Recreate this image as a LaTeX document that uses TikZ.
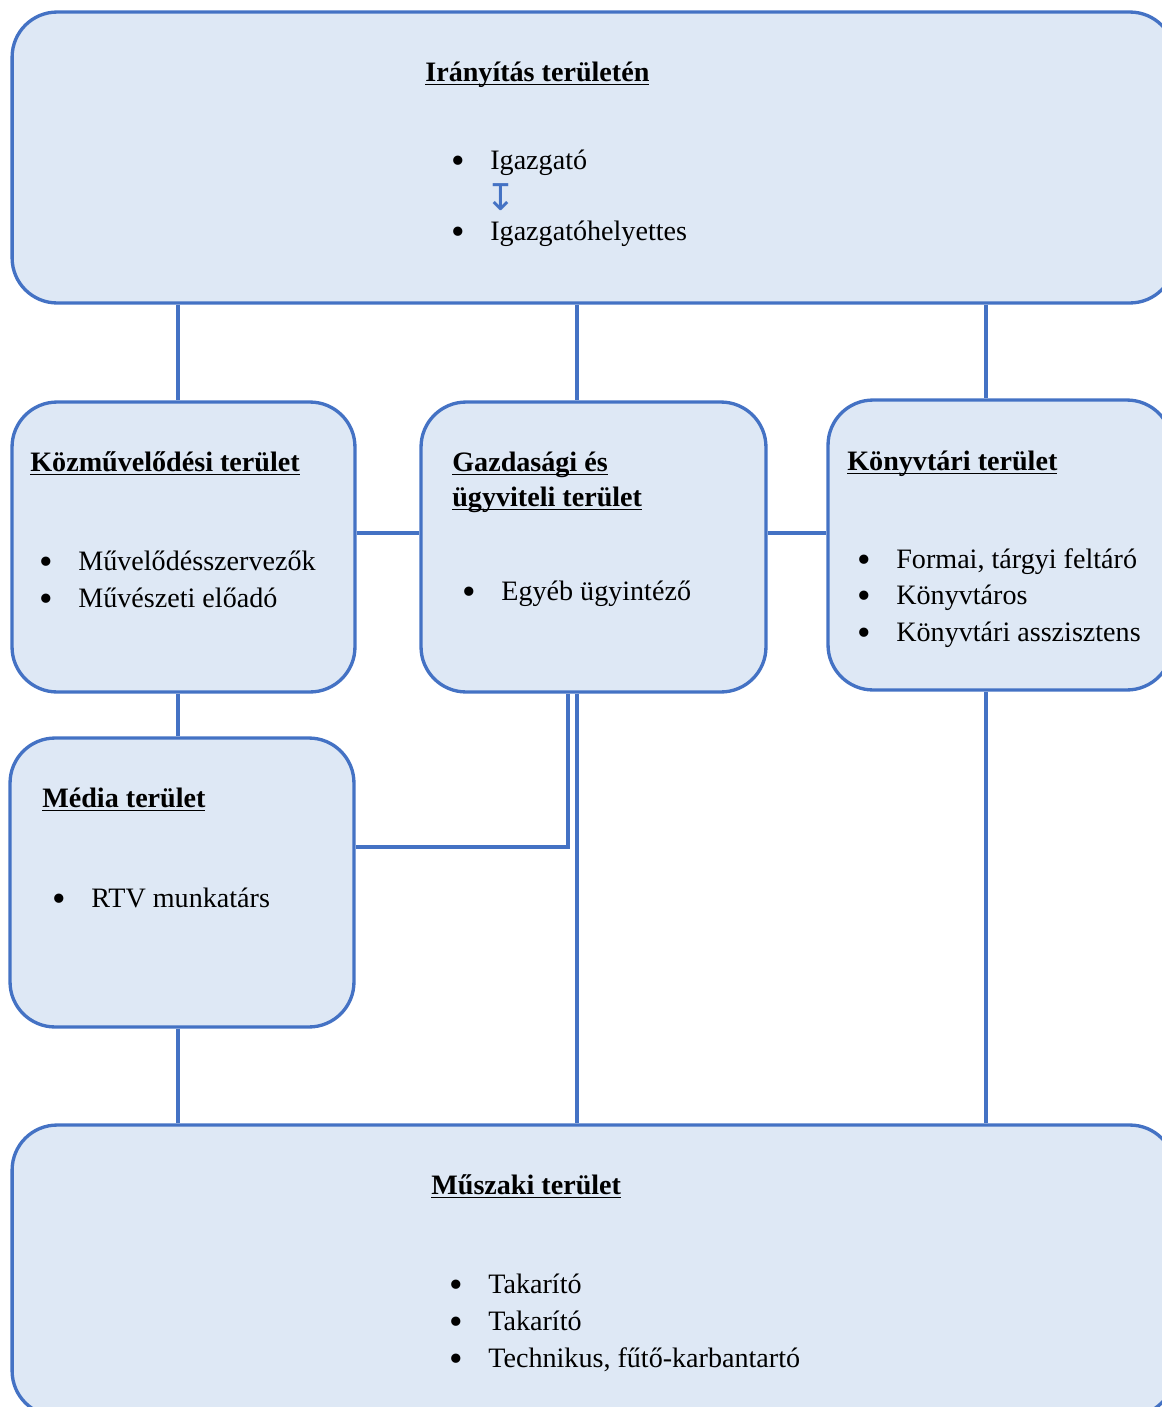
\documentclass[tikz,border=0pt]{standalone}
\usepackage{fontspec}
\setmainfont{Liberation Serif}
\newfontfamily\arrowfont{DejaVu Sans}
\usetikzlibrary{positioning,calc}
\definecolor{linec}{HTML}{4472C4}
\definecolor{boxc}{HTML}{DEE8F5}
\newcommand{\pont}{\makebox[0.78cm][l]{\raisebox{-2.4pt}{\fontsize{22}{22}\selectfont\textbullet}}}
\newcommand{\alah}[1]{\setbox0\hbox{#1}\rlap{\rule[-2.4pt]{\wd0}{0.9pt}}\box0}

\begin{document}
\begin{tikzpicture}[x=0.02cm, y=-0.02cm,
  box/.style={draw=linec, fill=boxc, line width=1.9pt, rounded corners=0.9cm, inner sep=0pt},
  head/.style={anchor=base west, inner sep=0pt, font=\fontsize{16}{19}\selectfont\bfseries},
  item/.style={anchor=base west, inner sep=0pt, font=\fontsize{16}{19}\selectfont},
  link/.style={linec, line width=2.1pt}
]
\useasboundingbox (0,0) rectangle (1162,1407);
\clip (0,0) rectangle (1162,1407);

% areas
\node[box, minimum width=23.26cm, minimum height=5.82cm] (iranyitas) at (593.5,157.5) {};
\node[box, minimum width=6.86cm, minimum height=5.8cm] (kozmuv) at (183.5,547) {};
\node[box, minimum width=6.9cm, minimum height=5.8cm] (gazd) at (593.5,547) {};
\node[box, minimum width=6.88cm, minimum height=5.8cm] (konyvtar) at (1000,545) {};
\node[box, minimum width=6.88cm, minimum height=5.78cm] (media) at (182,882.5) {};
\node[box, minimum width=23.26cm, minimum height=5.82cm] (muszaki) at (593.5,1270.5) {};

% line positions
\coordinate (xl) at (178,0);
\coordinate (xd) at (568,0);
\coordinate (xm) at (577,0);
\coordinate (xr) at (986,0);
\coordinate (yh) at (0,533);
\coordinate (yd) at (0,847);

% connectors
\draw[link] (iranyitas.south -| xl) -- (kozmuv.north -| xl);
\draw[link] (iranyitas.south -| xm) -- (gazd.north -| xm);
\draw[link] (iranyitas.south -| xr) -- (konyvtar.north -| xr);
\draw[link] (kozmuv.east |- yh) -- (gazd.west |- yh);
\draw[link] (gazd.east |- yh) -- (konyvtar.west |- yh);
\draw[link] (kozmuv.south -| xl) -- (media.north -| xl);
\draw[link] (media.south -| xl) -- (muszaki.north -| xl);
\draw[link] (media.east |- yd) -| (gazd.south -| xd);
\draw[link] (gazd.south -| xm) -- (muszaki.north -| xm);
\draw[link] (konyvtar.south -| xr) -- (muszaki.north -| xr);

% texts
\node[head] (iranyitasT) at (425,81) {\alah{Irányítás területén}};
\node[item] (igazgato) at (451,169) {\pont Igazgató};
\node[anchor=center, text=linec, font=\arrowfont\fontsize{21}{24}\selectfont] (nyil) at (501,197) {↧};
\node[item] (helyettes) at (451,240) {\pont Igazgatóhelyettes};

\node[head] (kozmuvT) at (30,471) {\alah{Közművelődési terület}};
\node[item] (szervezo) at (39,570) {\pont Művelődésszervezők};
\node[item] (eloado) at (39,607) {\pont Művészeti előadó};

\node[head] (gazdT) at (452,471) {\alah{Gazdasági és}};
\node[head] (gazdT2) at (452,506) {\alah{ügyviteli terület}};
\node[item] (ugyintezo) at (462,600) {\pont Egyéb ügyintéző};

\node[head] (konyvtarT) at (847,470) {\alah{Könyvtári terület}};
\node[item] (feltaro) at (857,568) {\pont Formai, tárgyi feltáró};
\node[item] (konyvtaros) at (857,604) {\pont Könyvtáros};
\node[item] (asszisztens) at (857,641) {\pont Könyvtári asszisztens};

\node[head] (mediaT) at (42,807) {\alah{Média terület}};
\node[item] (rtv) at (52,907) {\pont RTV munkatárs};

\node[head] (muszakiT) at (431,1194) {\alah{Műszaki terület}};
\node[item] (takarito1) at (449,1293) {\pont Takarító};
\node[item] (takarito2) at (449,1330) {\pont Takarító};
\node[item] (technikus) at (449,1367) {\pont Technikus, fűtő-karbantartó};

\end{tikzpicture}
\end{document}
